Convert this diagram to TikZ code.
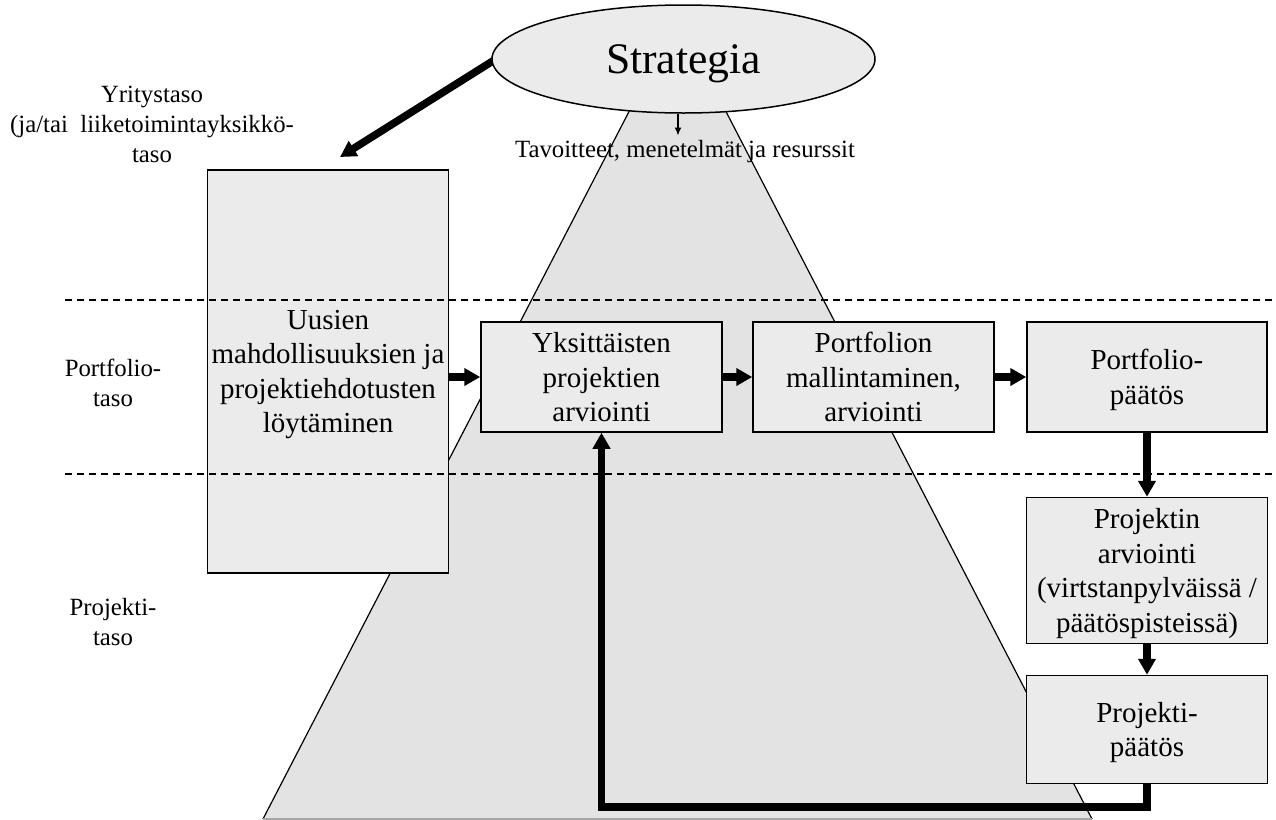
\documentclass[tikz,border=0pt]{standalone}
\usepackage{fontspec}
\setmainfont{Liberation Serif}
\usetikzlibrary{arrows.meta, shapes.geometric}
\definecolor{boxgray}{RGB}{235,235,235}
\definecolor{conegray}{RGB}{227,227,227}

\begin{document}
\begin{tikzpicture}[
    x=0.5pt, y=-0.5pt, >=Latex,
    every node/.style={align=center},
    stagebox/.style={draw, line width=0.75pt, fill=boxgray, minimum width=120.5pt, minimum height=55pt, inner sep=2pt, text depth=0pt, font=\fontsize{14.5}{17.25}\selectfont},
    levellabel/.style={inner sep=0pt, text depth=0pt, font=\fontsize{12.4}{15}\selectfont},
    thickarrow/.style={line width=3.8pt, line join=miter, -{Triangle[length=8pt, width=8.5pt]}},
    levelline/.style={dash pattern=on 3.5pt off 2.5pt, line width=0.6pt}
]
\useasboundingbox (0,0) rectangle (1276,820);

% strategy cone
\fill[conegray] (635,100) -- (263,819) -- (1092,819) -- (720,100) -- cycle;
\draw[line width=0.6pt] (635,100) -- (263,819);
\draw[line width=0.6pt] (720,100) -- (1092,819);
\draw[line width=0.6pt, gray!70] (263,819) -- (1092,819);

% level labels
\node (yritystaso) [levellabel] at (152,124.5) {Yritystaso\\(ja/tai~ liiketoimintayksikkö-\\taso};
\node (portfoliotaso) [levellabel] at (113,382.5) {Portfolio-\\taso};
\node (projektitaso) [levellabel] at (113,621.5) {Projekti-\\taso};

% process boxes
\node (uusien) [stagebox, minimum width=120pt, minimum height=201.5pt] at (328,371.5) {Uusien\\mahdollisuuksien ja\\projektiehdotusten\\löytäminen};
\node (yksittaiset) [stagebox] at (601.5,377) {Yksittäisten\\projektien\\arviointi};
\node (mallintaminen) [stagebox, right of=yksittaiset, node distance=136pt] {Portfolion\\mallintaminen,\\arviointi};
\node (portfolio_paatos) [stagebox, minimum width=120pt, right of=mallintaminen, node distance=136.75pt] {Portfolio-\\päätös};
\node (projektin_arviointi) [stagebox, minimum height=73pt, below of=portfolio_paatos, node distance=96.75pt] {Projektin\\arviointi\\(virtstanpylväissä /\\päätöspisteissä)};
\node (projekti_paatos) [stagebox, minimum height=54pt, below of=projektin_arviointi, node distance=79.5pt] {Projekti-\\päätös};

% level borders
\draw[levelline] (65,300) -- (1276,300);
\draw[levelline] (65,474) -- (1276,474);

% strategy
\coordinate (uusien_in) at (340,157);
\draw[thickarrow] (496,59) -- (uusien_in);
\node (strategia) [ellipse, draw, line width=0.75pt, fill=boxgray, minimum width=191.5pt, minimum height=54pt, inner sep=0pt, text depth=0pt, font=\fontsize{21.8}{26}\selectfont] at (683.5,59) {Strategia};
\node (tavoitteet) [levellabel, inner sep=2pt] at (685,148.5) {Tavoitteet, menetelmät ja resurssit};

\draw[line width=0.6pt, -{Latex[length=4pt, width=3.5pt]}] (strategia.south -| 678,0) -- (tavoitteet.north -| 678,0);
\draw[thickarrow] (uusien.east |- yksittaiset.west) -- (yksittaiset.west);
\draw[thickarrow] (yksittaiset) -- (mallintaminen);
\draw[thickarrow] (mallintaminen) -- (portfolio_paatos);
\draw[thickarrow] (portfolio_paatos) -- (projektin_arviointi);
\draw[thickarrow] (projektin_arviointi) -- (projekti_paatos);
\draw[thickarrow] (projekti_paatos.south) -- ++(0,23) -| (yksittaiset.south);
\end{tikzpicture}
\end{document}
